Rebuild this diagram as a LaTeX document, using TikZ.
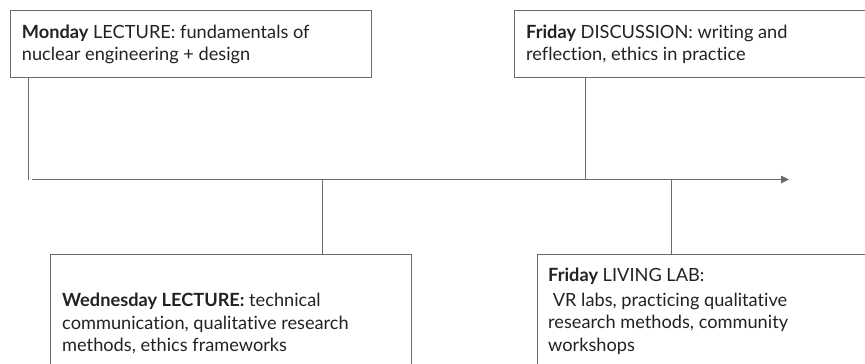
\documentclass[tikz,border=0pt]{standalone}
\usepackage{fontspec}
\setmainfont{Lato}[Ligatures={NoCommon}]
\usetikzlibrary{arrows.meta}
\definecolor{linegray}{HTML}{6B6B6B}
\definecolor{txt}{HTML}{222222}
\begin{document}
\begin{tikzpicture}[x=1pt,y=-1pt,
  boxstyle/.style={draw=linegray,line width=1pt,rectangle,anchor=north west,inner sep=0pt},
  labelstyle/.style={anchor=north west,inner sep=0pt,align=left,text=txt,font=\fontsize{18.2}{22.5}\selectfont},
  conn/.style={draw=linegray,line width=1pt}]
\useasboundingbox (0,0) rectangle (865,364);
% boxes
\node[boxstyle,minimum width=361.5pt,minimum height=66.5pt] (mon) at (9.5,10) {};
\node[boxstyle,minimum width=370pt,minimum height=66.5pt] (fri) at (514,10) {};
\node[boxstyle,minimum width=361.5pt,minimum height=130pt] (wed) at (49.5,254) {};
\node[boxstyle,minimum width=340pt,minimum height=130pt] (lab) at (537,254) {};
% texts
\node[labelstyle] (mont) at (21.7,24.3) {\textbf{Monday} LECTURE: fundamentals of\\nuclear engineering + design};
\node[labelstyle] (frit) at (526,24.3) {\textbf{Friday} DISCUSSION: writing and\\reflection, ethics in practice};
\node[labelstyle] (wedt) at (62,293.2) {\textbf{Wednesday LECTURE:} technical\\communication, qualitative research\\methods, ethics frameworks};
\node[labelstyle] (labt) at (548,268.2) {\textbf{Friday} LIVING LAB:\\[2pt]\ VR labs, practicing qualitative\\research methods, community\\workshops};
% axis
\coordinate (axs) at (32,179.5);
\coordinate (axe) at (789,179.5);
\coordinate (t1) at (28,179.5);
\coordinate (t2) at (322,179.5);
\coordinate (t3) at (585,179.5);
\coordinate (t4) at (671,179.5);
\draw[conn,-{Triangle[length=8pt,width=7.5pt]}] (axs) -- (axe);
\draw[conn] (mon.south -| t1) -- (t1);
\draw[conn] (fri.south -| t3) -- (t3);
\draw[conn] (t2) -- (wed.north -| t2);
\draw[conn] (t4) -- (lab.north -| t4);
\end{tikzpicture}
\end{document}
